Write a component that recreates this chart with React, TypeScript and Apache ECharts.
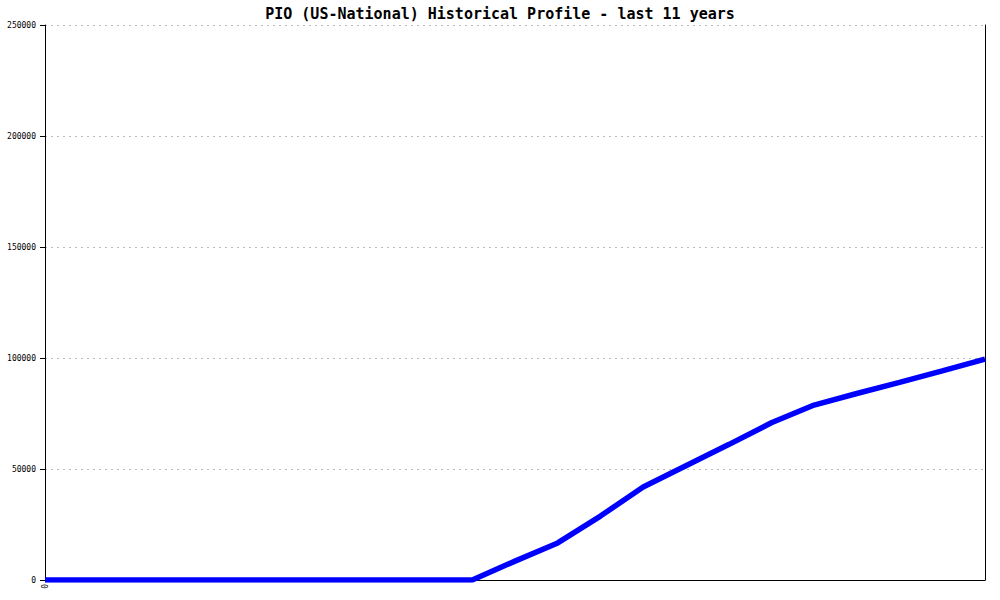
import React, { useEffect, useRef } from "react";
import * as echarts from "echarts";

const titleText = "PIO (US-National) Historical Profile - last 11 years";
const xLabels = ["0", "", "", "", "", "", "", "", "", "", "", "", "", "", "", "", "", "", "", "", "", "", ""];
const values = [
  0, 0, 0, 0, 0, 0, 0, 0, 0, 0, 0,
  8500, 16700, 28800, 41900, 51500, 61000, 70800, 78800, 84000, 89000, 94200, 99500,
];
const yMin = 0;
const yMax = 250000;
const yStep = 50000;

export default function App() {
  const ref = useRef<HTMLDivElement>(null);
  useEffect(() => {
    if (!ref.current) return;
    const chart = echarts.init(ref.current, undefined, { renderer: "svg" });
    const mono = "'DejaVu Sans Mono', 'Liberation Mono', monospace";
    chart.setOption({
      animation: false,
      backgroundColor: "#ffffff",
      title: {
        text: titleText,
        left: "center",
        top: 1,
        textStyle: { fontFamily: mono, fontSize: 15, fontWeight: "bold", color: "#000" },
      },
      grid: { left: 45, right: 15, top: 25, bottom: 20, containLabel: false },
      xAxis: {
        type: "category",
        data: xLabels,
        boundaryGap: false,
        axisLine: { show: true, lineStyle: { color: "#000", width: 1 } },
        axisTick: { show: false },
        axisLabel: {
          interval: 0,
          rotate: 90,
          margin: 4,
          fontFamily: mono,
          fontSize: 8,
          color: "#000",
        },
        splitLine: { show: false },
      },
      yAxis: [
        {
          type: "value",
          min: yMin,
          max: yMax,
          interval: yStep,
          axisLine: { show: true, lineStyle: { color: "#000", width: 1 } },
          axisTick: { show: true, length: 5, lineStyle: { color: "#000" } },
          axisLabel: {
            margin: 9,
            fontFamily: mono,
            fontSize: 8,
            color: "#000",
            formatter: (v: number) => String(v),
          },
          splitLine: {
            show: true,
            lineStyle: { color: "#bbbbbb", type: [2, 4], width: 1 },
          },
        },
        {
          type: "value",
          position: "right",
          min: yMin,
          max: yMax,
          interval: yStep,
          axisLine: { show: true, lineStyle: { color: "#000", width: 1 } },
          axisTick: { show: false },
          axisLabel: { show: false },
          splitLine: { show: false },
        },
      ],
      series: [
        {
          type: "line",
          data: values,
          yAxisIndex: 0,
          showSymbol: false,
          symbol: "none",
          lineStyle: { color: "#0000ff", width: 5.5 },
          z: 10,
        },
      ],
    });
    return () => chart.dispose();
  }, []);
  return (
    <div
      ref={ref}
      style={{ position: "fixed", left: 0, top: 0, width: 1000, height: 600, background: "#fff" }}
    />
  );
}
